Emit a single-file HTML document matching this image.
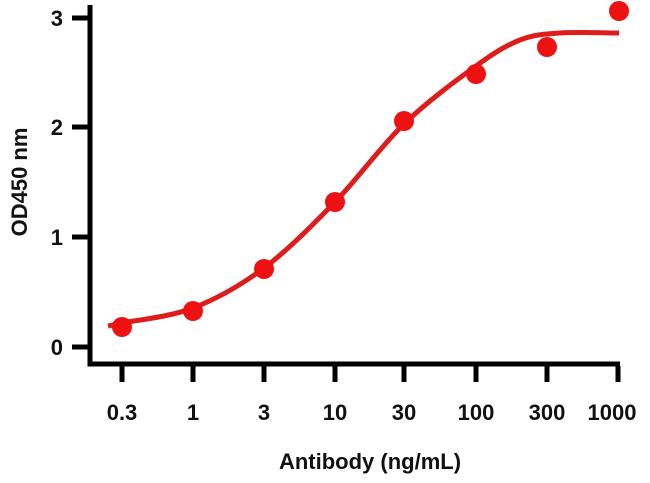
<!DOCTYPE html><html><head><style>body{margin:0;background:#fff}svg text{font-family:"Liberation Sans",Arial,sans-serif;font-weight:bold;fill:#111}</style></head><body>
<svg id="s" width="650" height="478" viewBox="0 0 650 478">
<path d="M90 5V364H620" fill="none" stroke="#000" stroke-width="5"/>
<g stroke="#000" stroke-width="5">
<line x1="72" y1="18" x2="90" y2="18"/><line x1="72" y1="127" x2="90" y2="127"/><line x1="72" y1="237" x2="90" y2="237"/><line x1="72" y1="347" x2="90" y2="347"/>
<line x1="122" y1="366" x2="122" y2="382"/><line x1="193" y1="366" x2="193" y2="382"/><line x1="264" y1="366" x2="264" y2="382"/><line x1="335" y1="366" x2="335" y2="382"/><line x1="404" y1="366" x2="404" y2="382"/><line x1="476" y1="366" x2="476" y2="382"/><line x1="547" y1="366" x2="547" y2="382"/><line x1="618" y1="366" x2="618" y2="382"/>
</g>
<g font-size="22" text-anchor="end"><text x="63" y="26">3</text><text x="63" y="135">2</text><text x="63" y="245">1</text><text x="63" y="355">0</text></g>
<g font-size="22" text-anchor="middle"><text x="122" y="420">0.3</text><text x="193" y="420">1</text><text x="264" y="420">3</text><text x="335" y="420">10</text><text x="404" y="420">30</text><text x="476" y="420">100</text><text x="547" y="420">300</text><text x="612" y="420">1000</text></g>
<text x="370" y="469" font-size="22" text-anchor="middle">Antibody (ng/mL)</text>
<text transform="translate(27 182) rotate(-90)" font-size="22" text-anchor="middle">OD450 nm</text>
<path id="c" fill="none" stroke="#dd1c1c" stroke-width="5"/>
<g fill="#ee1111"><circle cx="122" cy="327" r="10"/><circle cx="193" cy="311" r="10"/><circle cx="264" cy="269" r="10"/><circle cx="335" cy="202" r="10"/><circle cx="404" cy="121" r="10"/><circle cx="476" cy="74" r="10"/><circle cx="547" cy="47" r="10"/><circle cx="619" cy="11" r="10"/></g>
</svg>
<script>
var p=[[108,326],[122,323],[193,308],[264,268],[335,202],[404,124],[476,66],[520,40],[560,33],[619,33]];
var d="M"+p[0][0]+" "+p[0][1];
for(var i=0;i<p.length-1;i++){var a=p[Math.max(i-1,0)],b=p[i],c=p[i+1],e=p[Math.min(i+2,p.length-1)];
d+="C"+(b[0]+(c[0]-a[0])/6).toFixed(1)+" "+(b[1]+(c[1]-a[1])/6).toFixed(1)+" "+(c[0]-(e[0]-b[0])/6).toFixed(1)+" "+(c[1]-(e[1]-b[1])/6).toFixed(1)+" "+c[0]+" "+c[1];}
document.getElementById("c").setAttribute("d",d);
</script>
</body></html>
